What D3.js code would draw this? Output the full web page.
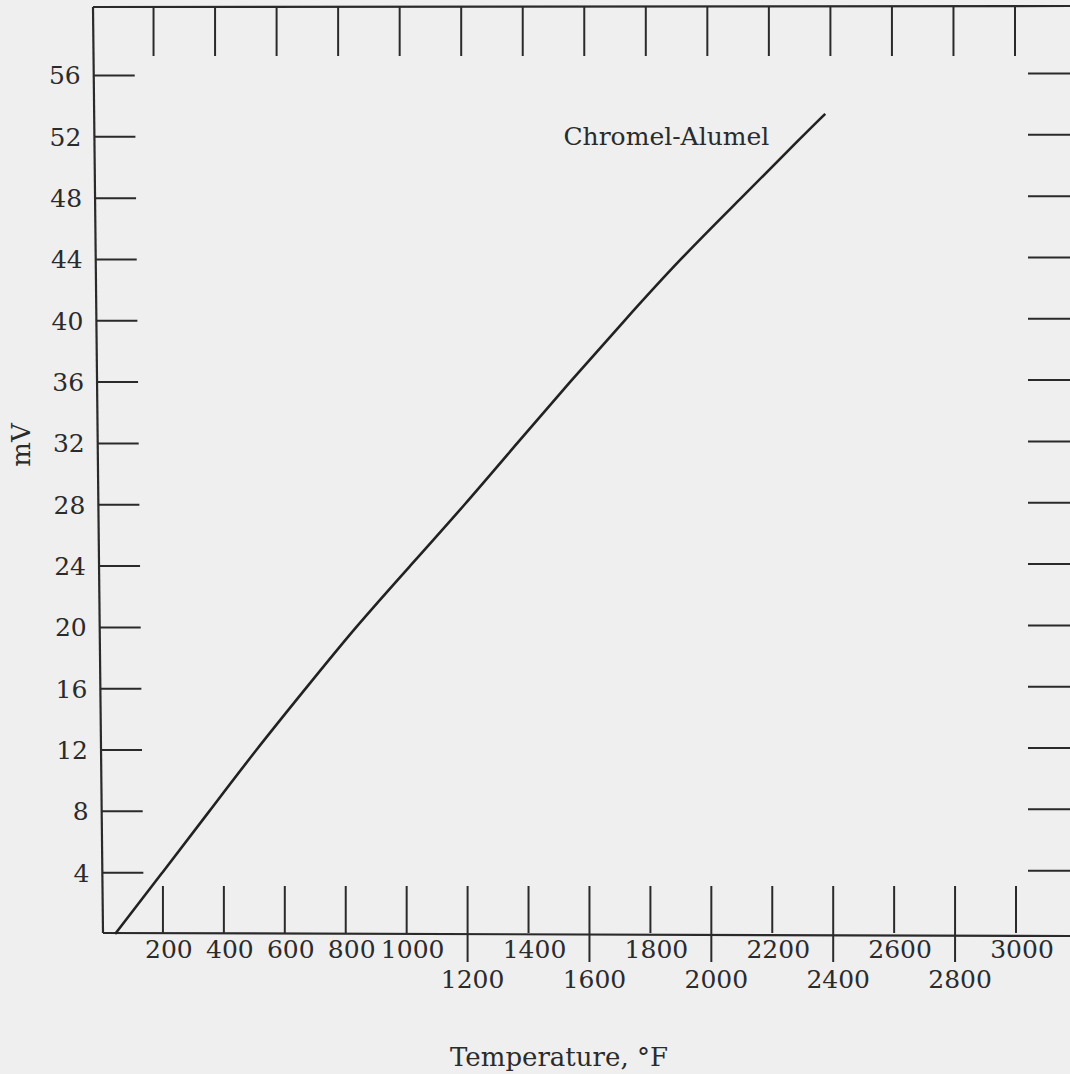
<!DOCTYPE html>
<html>
<head>
<meta charset="utf-8">
<script src="https://cdn.jsdelivr.net/npm/d3@7"></script>
<style>
  html, body { margin: 0; padding: 0; background: #efefef; }
  svg { display: block; }
  text { font-family: "DejaVu Serif", serif; fill: #2b2b2b; }
</style>
</head>
<body>
<script>
// ---- data ----
const seriesName = "Chromel-Alumel";
const temperatureF = [43, 198, 352, 505, 668, 831, 1011, 1191, 1362, 1535, 1714, 1896, 2098, 2297, 2374];
const millivolts   = [0, 4, 8, 12, 16, 20, 24, 28, 32, 36, 40, 44, 48, 52, 53.5];
const xTickValues  = [200, 400, 600, 800, 1000, 1200, 1400, 1600, 1800, 2000, 2200, 2400, 2600, 2800, 3000];
const xLabelsUpper = [200, 400, 600, 800, 1000, 1400, 1800, 2200, 2600, 3000];
const xLabelsLower = [1200, 1600, 2000, 2400, 2800];
const yTickValues  = [4, 8, 12, 16, 20, 24, 28, 32, 36, 40, 44, 48, 52, 56];
const xTitle = "Temperature, \u00B0F";
const yTitle = "mV";

// ---- layout ----
const W = 1070, H = 1074;
const svg = d3.select("body").append("svg").attr("width", W).attr("height", H);
svg.append("rect").attr("width", W).attr("height", H).attr("fill", "#efefef");

const x = d3.scaleLinear().domain([0, 3000]).range([102, 1016]);      // bottom edge
const xTop = d3.scaleLinear().domain([0, 3000]).range([92, 1015]);    // top edge (scan skew)
const y = d3.scaleLinear().domain([0, 60.5]).range([934, 6.5]);

const axisY = 933, topY = 7;
const leftX = yy => 103 - 10 * (axisY - yy) / (axisY - topY);        // slanted left edge
const ink = "#2a2a2a";
const fs = 25;

const g = svg.append("g");

// frame lines
g.append("line").attr("x1", leftX(topY)).attr("y1", topY).attr("x2", leftX(axisY)).attr("y2", axisY)
  .attr("stroke", ink).attr("stroke-width", 2.2);
g.append("line").attr("x1", leftX(topY)).attr("y1", topY).attr("x2", W + 5).attr("y2", topY - 1)
  .attr("stroke", ink).attr("stroke-width", 2.2);
g.append("line").attr("x1", leftX(axisY)).attr("y1", axisY).attr("x2", W + 5).attr("y2", axisY + 3)
  .attr("stroke", ink).attr("stroke-width", 2.2);

// bottom ticks (inside) + long ticks under axis for lower-row labels
g.selectAll(".bt").data(xTickValues).join("line")
  .attr("x1", d => x(d)).attr("x2", d => x(d))
  .attr("y1", 886).attr("y2", d => xLabelsLower.includes(d) ? 962 : axisY)
  .attr("stroke", ink).attr("stroke-width", 2);

// top ticks
g.selectAll(".tt").data(xTickValues).join("line")
  .attr("x1", d => xTop(d)).attr("x2", d => xTop(d))
  .attr("y1", topY).attr("y2", 56)
  .attr("stroke", ink).attr("stroke-width", 2);

// x labels
g.selectAll(".xl1").data(xLabelsUpper).join("text")
  .attr("x", d => x(d) + 6).attr("y", 958)
  .attr("text-anchor", "middle").attr("font-size", fs).text(d => d);
g.selectAll(".xl2").data(xLabelsLower).join("text")
  .attr("x", d => x(d) + 5).attr("y", 988)
  .attr("text-anchor", "middle").attr("font-size", fs).text(d => d);

// left y ticks and labels
g.selectAll(".yt").data(yTickValues).join("line")
  .attr("x1", d => leftX(y(d))).attr("x2", d => leftX(y(d)) + 41)
  .attr("y1", d => y(d)).attr("y2", d => y(d))
  .attr("stroke", ink).attr("stroke-width", 2);
g.selectAll(".yl").data(yTickValues).join("text")
  .attr("x", d => leftX(y(d)) - 13).attr("y", d => y(d)).attr("dy", "0.36em")
  .attr("text-anchor", "end").attr("font-size", fs).text(d => d);

// right y ticks
g.selectAll(".rt").data(yTickValues).join("line")
  .attr("x1", 1028).attr("x2", W + 5)
  .attr("y1", d => y(d) - 2).attr("y2", d => y(d) - 2)
  .attr("stroke", ink).attr("stroke-width", 2);

// data line
const pts = temperatureF.map((t, i) => ({ t, v: millivolts[i] }));
const line = d3.line().x(d => x(d.t)).y(d => y(d.v)).curve(d3.curveBasis);
g.append("path").datum(pts).attr("d", line)
  .attr("fill", "none").attr("stroke", "#222222").attr("stroke-width", 2.6);

// series label
const last = pts[pts.length - 1];
g.append("text")
  .attr("x", x(last.t) - 56).attr("y", y(last.v) + 31)
  .attr("text-anchor", "end").attr("font-size", fs).text(seriesName);

// axis titles
g.append("text").attr("x", 559).attr("y", 1066)
  .attr("text-anchor", "middle").attr("font-size", 26).text(xTitle);
g.append("text").attr("transform", "translate(30,445) rotate(-90)")
  .attr("text-anchor", "middle").attr("font-size", 26).text(yTitle);
</script>
</body>
</html>
